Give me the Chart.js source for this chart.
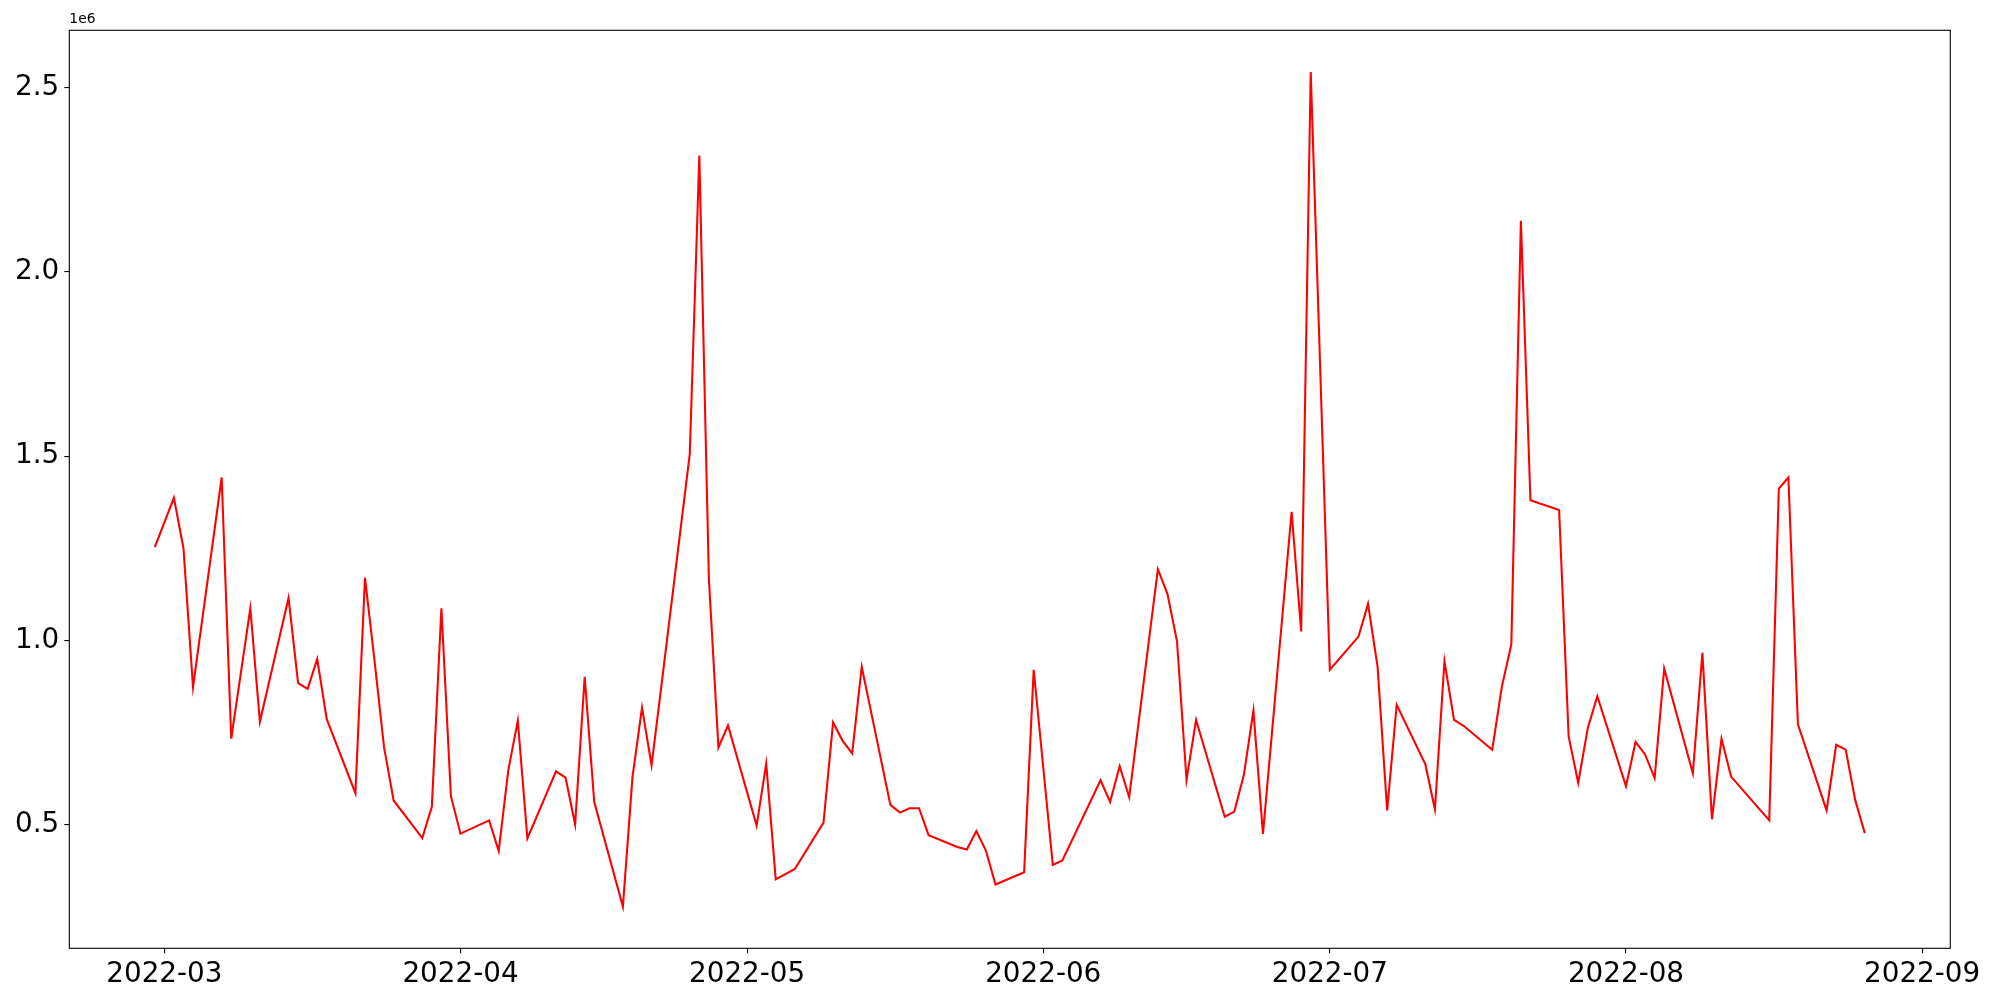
<!DOCTYPE html>
<html>
<head>
<meta charset="utf-8">
<script src="https://cdn.jsdelivr.net/npm/chart.js@4/dist/chart.umd.min.js"></script>
<style>
  html, body { margin: 0; padding: 0; background: #ffffff; }
  #wrap { width: 2000px; height: 1000px; }
</style>
</head>
<body>
<div id="wrap"><canvas id="lineChart" width="2000" height="1000"></canvas></div>
<script>
// ---- data ----
const DATES = [
  '2022-02-28','2022-03-02','2022-03-03','2022-03-04','2022-03-07','2022-03-08','2022-03-10','2022-03-11',
  '2022-03-14','2022-03-15','2022-03-16','2022-03-17','2022-03-18','2022-03-21','2022-03-22','2022-03-23',
  '2022-03-24','2022-03-25','2022-03-28','2022-03-29','2022-03-30','2022-03-31','2022-04-01','2022-04-04',
  '2022-04-05','2022-04-06','2022-04-07','2022-04-08','2022-04-11','2022-04-12','2022-04-13','2022-04-14',
  '2022-04-15','2022-04-18','2022-04-19','2022-04-20','2022-04-21','2022-04-22','2022-04-25','2022-04-26',
  '2022-04-27','2022-04-28','2022-04-29','2022-05-02','2022-05-03','2022-05-04','2022-05-06','2022-05-09',
  '2022-05-10','2022-05-11','2022-05-12','2022-05-13','2022-05-16','2022-05-17','2022-05-18','2022-05-19',
  '2022-05-20','2022-05-23','2022-05-24','2022-05-25','2022-05-26','2022-05-27','2022-05-30','2022-05-31',
  '2022-06-02','2022-06-03','2022-06-07','2022-06-08','2022-06-09','2022-06-10','2022-06-13','2022-06-14',
  '2022-06-15','2022-06-16','2022-06-17','2022-06-20','2022-06-21','2022-06-22','2022-06-23','2022-06-24',
  '2022-06-27','2022-06-28','2022-06-29','2022-07-01','2022-07-04','2022-07-05','2022-07-06','2022-07-07',
  '2022-07-08','2022-07-11','2022-07-12','2022-07-13','2022-07-14','2022-07-15','2022-07-18','2022-07-19',
  '2022-07-20','2022-07-21','2022-07-22','2022-07-25','2022-07-26','2022-07-27','2022-07-28','2022-07-29',
  '2022-08-01','2022-08-02','2022-08-03','2022-08-04','2022-08-05','2022-08-08','2022-08-09','2022-08-10',
  '2022-08-11','2022-08-12','2022-08-16','2022-08-17','2022-08-18','2022-08-19','2022-08-22','2022-08-23',
  '2022-08-24','2022-08-25','2022-08-26'
];

const VALUES = [
  1253000, 1387000, 1250000,  873000, 1442000,  733000, 1087000,  779000,
  1115000,  884000,  868000,  949000,  786000,  585000, 1170000,  945000,
   709000,  565000,  463000,  548000, 1087000,  576000,  475000,  511000,
   428000,  647000,  782000,  462000,  644000,  627000,  500000,  901000,
   561000,  277000,  628000,  817000,  661000,  870000, 1506000, 2316000,
  1167000,  709000,  769000,  497000,  665000,  351000,  379000,  505000,
   777000,  727000,  693000,  928000,  553000,  532000,  544000,  544000,
   471000,  439000,  432000,  482000,  429000,  337000,  370000,  920000,
   390000,  402000,  620000,  561000,  658000,  574000, 1193000, 1126000,
   998000,  621000,  784000,  521000,  535000,  634000,  809000,  474000,
  1349000, 1024000, 2543000,  920000, 1010000, 1099000,  928000,  538000,
   825000,  663000,  541000,  943000,  784000,  768000,  703000,  873000,
   989000, 2139000, 1380000, 1354000,  739000,  613000,  761000,  848000,
   604000,  724000,  690000,  626000,  923000,  639000,  966000,  514000,
   733000,  630000,  511000, 1412000, 1442000,  772000,  538000,  716000,
   703000,  566000,  476000
];

const MONTH_TICKS = ['2022-03-01','2022-04-01','2022-05-01','2022-06-01','2022-07-01','2022-08-01','2022-09-01'];
const Y_TICKS = [500000, 1000000, 1500000, 2000000, 2500000];

const FONT = 'DejaVu Sans';

function toMs(s) {
  const p = s.split('-').map(Number);
  return Date.UTC(p[0], p[1] - 1, p[2]);
}

const points = DATES.map((d, i) => ({ x: toMs(d), y: VALUES[i] }));

// matplotlib-style 5% margins
const xs = points.map(p => p.x);
const xMinD = Math.min(...xs), xMaxD = Math.max(...xs);
const xPad = (xMaxD - xMinD) * 0.05;
const yMinD = Math.min(...VALUES), yMaxD = Math.max(...VALUES);
const yPad = (yMaxD - yMinD) * 0.05;

// frame + offset text
const framePlugin = {
  id: 'frame',
  afterDraw(chart) {
    const { ctx, chartArea: a } = chart;
    ctx.save();
    ctx.strokeStyle = '#000000';
    ctx.lineWidth = 1.1;
    ctx.strokeRect(a.left, a.top, a.right - a.left, a.bottom - a.top);
    ctx.fillStyle = '#000000';
    ctx.font = '13.9px "' + FONT + '"';
    ctx.textAlign = 'left';
    ctx.textBaseline = 'bottom';
    ctx.fillText('1e6', a.left, a.top - 4);
    ctx.restore();
  }
};

const tickGrid = {
  display: true,
  drawOnChartArea: false,
  drawTicks: true,
  tickLength: 5,
  color: '#000000',
  lineWidth: 1.1,
};

new Chart(document.getElementById('lineChart'), {
  type: 'line',
  data: {
    datasets: [{
      data: points,
      borderColor: '#ff0000',
      borderWidth: 2.08,
      pointRadius: 0,
      tension: 0,
      fill: false,
    }]
  },
  options: {
    responsive: false,
    animation: false,
    events: [],
    layout: { padding: { left: 0, right: 49.7, top: 30.3, bottom: 0 } },
    plugins: { legend: { display: false }, tooltip: { enabled: false } },
    scales: {
      x: {
        type: 'linear',
        min: xMinD - xPad,
        max: xMaxD + xPad,
        grid: tickGrid,
        border: { display: false },
        afterBuildTicks: scale => { scale.ticks = MONTH_TICKS.map(d => ({ value: toMs(d) })); },
        afterFit: scale => { scale.height = 51.7; },
        ticks: {
          autoSkip: false,
          maxRotation: 0,
          padding: 5,
          color: '#000000',
          font: { family: FONT, size: 27.8 },
          callback: v => {
            const d = new Date(v);
            return d.getUTCFullYear() + '-' + String(d.getUTCMonth() + 1).padStart(2, '0');
          }
        }
      },
      y: {
        type: 'linear',
        min: yMinD - yPad,
        max: yMaxD + yPad,
        grid: tickGrid,
        border: { display: false },
        afterBuildTicks: scale => { scale.ticks = Y_TICKS.map(v => ({ value: v })); },
        afterFit: scale => { scale.width = 69.3; },
        ticks: {
          autoSkip: false,
          padding: 5,
          color: '#000000',
          font: { family: FONT, size: 27.8 },
          callback: v => (v / 1e6).toFixed(1)
        }
      }
    }
  },
  plugins: [framePlugin]
});
</script>
</body>
</html>
